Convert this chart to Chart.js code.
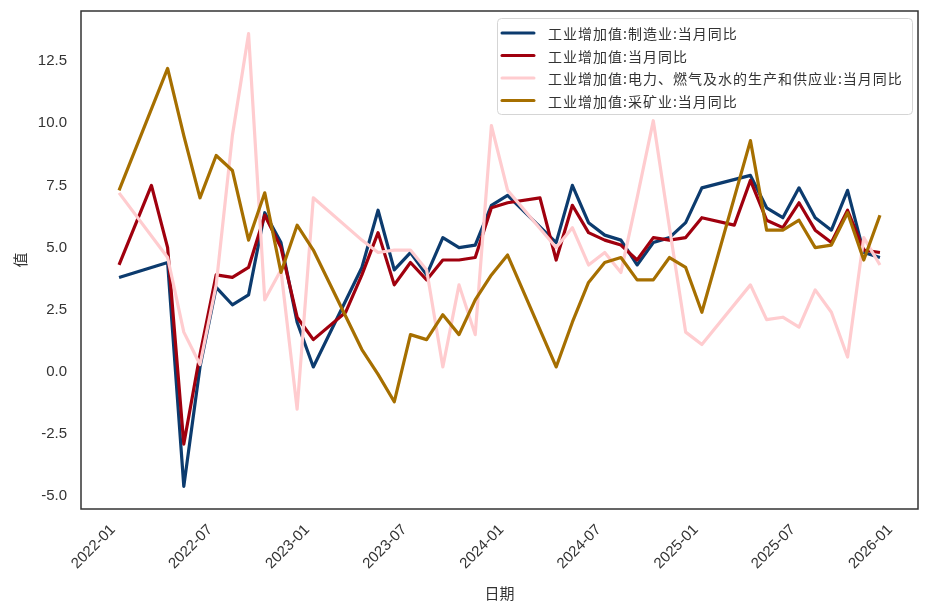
<!DOCTYPE html>
<html>
<head>
<meta charset="utf-8">
<script src="https://cdn.jsdelivr.net/npm/chart.js@4.4.1/dist/chart.umd.min.js"></script>
<style>
  html, body { margin: 0; padding: 0; background: #fff; }
  #chart { display: block; }
</style>
</head>
<body>
<canvas id="chart" width="928" height="613"></canvas>
<script>
// 月份 (月末数据, 1-2月合并发布)
const dates = [
  '2021-12',
  '2022-02','2022-03','2022-04','2022-05','2022-06','2022-07','2022-08','2022-09','2022-10','2022-11','2022-12',
  '2023-02','2023-03','2023-04','2023-05','2023-06','2023-07','2023-08','2023-09','2023-10','2023-11','2023-12',
  '2024-02','2024-03','2024-04','2024-05','2024-06','2024-07','2024-08','2024-09','2024-10','2024-11','2024-12',
  '2025-02','2025-03','2025-04','2025-05','2025-06','2025-07','2025-08','2025-09','2025-10','2025-11'
];

const manufacturing = [
  3.8,
  null, 4.4, -4.6, 0.2, 3.4, 2.7, 3.1, 6.4, 5.2, 2.0, 0.2,
  null, 4.2, 6.5, 4.1, 4.8, 3.9, 5.4, 5.0, 5.1, 6.7, 7.1,
  null, 5.2, 7.5, 6.0, 5.5, 5.3, 4.3, 5.2, 5.4, 6.0, 7.4,
  null, 7.9, 6.6, 6.2, 7.4, 6.2, 5.7, 7.3, 4.8, 4.6
];
const total = [
  4.3,
  7.5, 5.0, -2.9, 0.7, 3.9, 3.8, 4.2, 6.3, 5.0, 2.2, 1.3,
  2.4, 3.9, 5.6, 3.5, 4.4, 3.7, 4.5, 4.5, 4.6, 6.6, 6.8,
  7.0, 4.5, 6.7, 5.6, 5.3, 5.1, 4.5, 5.4, 5.3, 5.4, 6.2,
  5.9, 7.7, 6.1, 5.8, 6.8, 5.7, 5.2, 6.5, 4.9, 4.8
];
const utilities = [
  7.2,
  null, 4.6, 1.6, 0.3, 3.5, 9.5, 13.6, 2.9, 4.1, -1.5, 7.0,
  null, 5.3, 4.8, 4.9, 4.9, 4.1, 0.2, 3.5, 1.5, 9.9, 7.3,
  null, 5.0, 5.8, 4.3, 4.8, 4.0, 7.0, 10.1, 5.8, 1.6, 1.1,
  null, 3.5, 2.1, 2.2, 1.8, 3.3, 2.4, 0.6, 5.4, 4.3
];
const mining = [
  7.3,
  null, 12.2, 9.5, 7.0, 8.7, 8.1, 5.3, 7.2, 4.0, 5.9, 4.9,
  null, 0.9, -0.1, -1.2, 1.5, 1.3, 2.3, 1.5, 2.9, 3.9, 4.7,
  null, 0.2, 2.0, 3.6, 4.4, 4.6, 3.7, 3.7, 4.6, 4.2, 2.4,
  null, 9.3, 5.7, 5.7, 6.1, 5.0, 5.1, 6.4, 4.5, 6.3
];

const seriesNames = [
  '工业增加值:制造业:当月同比',
  '工业增加值:当月同比',
  '工业增加值:电力、燃气及水的生产和供应业:当月同比',
  '工业增加值:采矿业:当月同比'
];
const seriesColors = ['#0C3B6E', '#A0000E', '#FFCCCF', '#A66F00'];

const xTickLabels = ['2022-01','2022-07','2023-01','2023-07','2024-01','2024-07','2025-01','2025-07','2026-01'];
const yTicks = [-5.0, -2.5, 0.0, 2.5, 5.0, 7.5, 10.0, 12.5];

// 月份 -> 以 2022-01 月初为 0 的月数
function monthStart(s) {
  const [y, m] = s.split('-').map(Number);
  return (y - 2022) * 12 + (m - 1);
}
function monthEnd(s) { return monthStart(s) + 1; }

const allSeries = [manufacturing, total, utilities, mining];
const datasets = allSeries.map((vals, i) => ({
  label: seriesNames[i],
  data: dates.map((d, j) => ({ x: monthEnd(d), y: vals[j] })),
  borderColor: seriesColors[i],
  backgroundColor: seriesColors[i],
  borderWidth: 3.2,
  pointRadius: 0,
  tension: 0,
  spanGaps: true,
  borderJoinStyle: 'round',
  order: 4 - i
}));

const tickFont = { family: 'Liberation Sans, Arial, sans-serif', size: 15 };
const cjk = '"Noto Sans CJK SC", sans-serif';

const framePlugin = {
  id: 'frame',
  afterDraw(chart) {
    const { ctx, chartArea: a } = chart;
    ctx.save();
    ctx.strokeStyle = '#333333';
    ctx.lineWidth = 1.5;
    ctx.strokeRect(a.left, a.top, a.right - a.left, a.bottom - a.top);
    ctx.restore();
  }
};

// 图例: 放在绘图区右上角, 带边框
const legendPlugin = {
  id: 'boxLegend',
  afterDraw(chart) {
    const ctx = chart.ctx;
    const bx = 497.5, by = 18.5, bw = 415, bh = 96;
    ctx.save();
    ctx.beginPath();
    ctx.roundRect(bx, by, bw, bh, 4);
    ctx.fillStyle = 'rgba(255,255,255,0.85)';
    ctx.fill();
    ctx.strokeStyle = '#d5d5d5';
    ctx.lineWidth = 1;
    ctx.stroke();
    ctx.font = '14px ' + cjk;
    ctx.textBaseline = 'middle';
    ctx.textAlign = 'left';
    if ('letterSpacing' in ctx) ctx.letterSpacing = '1px';
    seriesNames.forEach((name, i) => {
      const y = 33 + i * 22.5;
      ctx.strokeStyle = seriesColors[i];
      ctx.lineWidth = 3;
      ctx.lineCap = 'round';
      ctx.beginPath();
      ctx.moveTo(502, y);
      ctx.lineTo(534, y);
      ctx.stroke();
      ctx.fillStyle = '#333333';
      ctx.fillText(name, 548, y + 1);
    });
    ctx.restore();
  }
};

new Chart(document.getElementById('chart'), {
  type: 'line',
  data: { datasets },
  options: {
    responsive: false,
    animation: false,
    devicePixelRatio: 1,
    layout: { padding: { top: 11, right: 10, left: 0, bottom: 0 } },
    plugins: { legend: { display: false }, tooltip: { enabled: false } },
    scales: {
      x: {
        type: 'linear',
        min: -2.35,
        max: 49.35,
        afterBuildTicks: s => { s.ticks = xTickLabels.map(l => ({ value: monthStart(l) })); },
        ticks: {
          autoSkip: false,
          maxRotation: 45,
          minRotation: 45,
          padding: 12,
          labelOffset: -6,
          color: '#333333',
          font: tickFont,
          callback: v => {
            const y = 2022 + Math.floor(v / 12);
            const m = ((v % 12) + 12) % 12 + 1;
            return y + '-' + String(m).padStart(2, '0');
          }
        },
        grid: { display: false, drawTicks: false },
        border: { display: false },
        title: { display: true, text: '日期', color: '#333333', font: { family: cjk, size: 15 }, padding: { top: 0, bottom: 11 } },
        afterFit: s => { s.height = 104; s.paddingLeft = 0; s.paddingRight = 0; }
      },
      y: {
        type: 'linear',
        min: -5.51,
        max: 14.51,
        afterBuildTicks: s => { s.ticks = yTicks.map(v => ({ value: v })); },
        ticks: {
          padding: 14,
          color: '#333333',
          font: tickFont,
          callback: v => v.toFixed(1)
        },
        grid: { display: false, drawTicks: false },
        border: { display: false },
        title: { display: true, text: '值', color: '#333333', font: { family: cjk, size: 15 }, padding: { top: 11, bottom: 0 } },
        afterFit: s => { s.width = 81; s.paddingTop = 0; s.paddingBottom = 0; }
      }
    }
  },
  plugins: [framePlugin, legendPlugin]
});
</script>
</body>
</html>
